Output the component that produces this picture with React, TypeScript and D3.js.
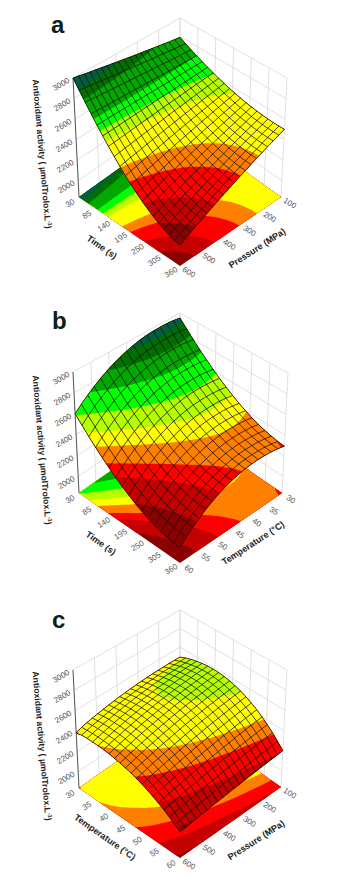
import React from "react";
import * as d3 from "d3";

// colour bands of the response surface, lowest first. Each panel has its own levels
const bandColors = ["#8b0000", "#c40000", "#ff0000", "#ff8000", "#ffff00", "#b6ff00", "#00ff00", "#00a800", "#006e00", "#005e40"];
const levelsA = [1800, 2090, 2185, 2300, 2385, 2550, 2620, 2700, 2840, 2910];
const levelsB = [1800, 2100, 2225, 2300, 2395, 2480, 2590, 2720, 2830, 2920];
const levelsC = [1800, 2085, 2195, 2300, 2385, 2520, 2620, 2720, 2830, 2920];

const activityTicks = [2000, 2200, 2400, 2600, 2800, 3000];
const timeTicks = [30, 85, 140, 195, 250, 305, 360];
const pressureTicks = [100, 200, 300, 400, 500, 600];
const temperatureTicks = [30, 35, 40, 45, 50, 55, 60];

// rows: time 30 -> 360, columns: pressure 100 -> 600
const surfaceA = [
  [2790,2801,2811,2822,2832,2843,2853,2864,2874,2885,2895,2906,2916,2927,2937,2948,2958,2969,2979,2990,3000],
  [2759,2767,2774,2782,2790,2798,2805,2813,2821,2828,2836,2844,2851,2859,2867,2875,2882,2890,2898,2905,2913],
  [2730,2735,2740,2745,2750,2755,2760,2765,2770,2775,2780,2785,2790,2795,2800,2805,2810,2815,2820,2825,2830],
  [2703,2705,2708,2710,2712,2715,2717,2719,2722,2724,2727,2729,2731,2734,2736,2738,2741,2743,2745,2748,2750],
  [2677,2677,2677,2677,2677,2677,2676,2676,2676,2676,2676,2676,2676,2676,2676,2676,2675,2675,2675,2675,2675],
  [2653,2651,2648,2646,2643,2641,2638,2636,2633,2631,2629,2626,2624,2621,2619,2616,2614,2611,2609,2606,2604],
  [2631,2626,2622,2617,2612,2608,2603,2598,2593,2589,2584,2579,2575,2570,2565,2561,2556,2551,2546,2542,2537],
  [2610,2603,2596,2590,2583,2576,2569,2562,2556,2549,2542,2535,2528,2522,2515,2508,2501,2494,2488,2481,2474],
  [2591,2582,2573,2565,2556,2547,2538,2529,2521,2512,2503,2494,2485,2477,2468,2459,2450,2441,2433,2424,2415],
  [2574,2563,2553,2542,2531,2520,2510,2499,2488,2477,2467,2456,2445,2434,2424,2413,2402,2391,2381,2370,2359],
  [2559,2546,2534,2521,2509,2496,2484,2471,2459,2446,2434,2421,2408,2396,2383,2371,2358,2346,2333,2321,2308],
  [2545,2531,2517,2502,2488,2474,2460,2446,2431,2417,2403,2389,2375,2360,2346,2332,2318,2304,2289,2275,2261],
  [2533,2517,2502,2486,2470,2454,2439,2423,2407,2391,2376,2360,2344,2328,2313,2297,2281,2265,2250,2234,2218],
  [2523,2506,2489,2471,2454,2437,2420,2403,2385,2368,2351,2334,2317,2299,2282,2265,2248,2231,2213,2196,2179],
  [2515,2496,2478,2459,2441,2422,2404,2385,2367,2348,2330,2311,2292,2274,2255,2237,2218,2200,2181,2163,2144],
  [2508,2488,2469,2449,2429,2409,2390,2370,2350,2330,2311,2291,2271,2251,2232,2212,2192,2172,2153,2133,2113],
  [2503,2482,2461,2440,2420,2399,2378,2357,2336,2315,2295,2274,2253,2232,2211,2190,2169,2149,2128,2107,2086],
  [2500,2478,2456,2434,2413,2391,2369,2347,2325,2303,2282,2260,2238,2216,2194,2172,2150,2129,2107,2085,2063],
  [2498,2475,2453,2430,2407,2385,2362,2339,2316,2294,2271,2248,2226,2203,2180,2158,2135,2112,2089,2067,2044],
  [2498,2475,2451,2428,2404,2381,2357,2334,2310,2287,2264,2240,2217,2193,2170,2146,2123,2099,2076,2052,2029],
  [2500,2476,2452,2428,2404,2380,2355,2331,2307,2283,2259,2235,2211,2187,2163,2139,2114,2090,2066,2042,2018],
];

// rows: time 30 -> 360, columns: temperature 30 -> 60
const surfaceB = [
  [2948,2958,2964,2968,2968,2967,2963,2955,2945,2931,2915,2897,2875,2851,2823,2793,2760,2724,2686,2644,2600],
  [2887,2897,2903,2907,2908,2906,2902,2895,2884,2871,2855,2836,2815,2790,2763,2733,2699,2664,2626,2584,2540],
  [2829,2839,2845,2849,2850,2849,2844,2837,2827,2813,2797,2779,2757,2733,2706,2676,2642,2607,2569,2527,2483],
  [2773,2783,2790,2793,2794,2793,2789,2782,2771,2758,2742,2724,2703,2678,2651,2621,2588,2553,2514,2473,2429],
  [2721,2731,2738,2742,2743,2742,2737,2730,2720,2707,2691,2673,2652,2628,2601,2571,2537,2502,2464,2423,2379],
  [2672,2682,2689,2693,2694,2693,2689,2682,2672,2659,2643,2624,2603,2579,2552,2522,2489,2454,2416,2375,2331],
  [2626,2636,2643,2647,2648,2647,2643,2636,2626,2613,2597,2579,2558,2534,2507,2477,2444,2409,2371,2330,2286],
  [2582,2592,2599,2603,2604,2604,2600,2593,2583,2570,2554,2536,2515,2491,2464,2435,2402,2367,2329,2288,2244],
  [2542,2552,2559,2563,2565,2564,2560,2553,2543,2530,2515,2497,2476,2452,2425,2395,2362,2328,2290,2249,2205],
  [2505,2515,2522,2527,2528,2527,2523,2516,2507,2494,2478,2460,2439,2416,2389,2359,2326,2291,2254,2213,2169],
  [2471,2481,2489,2493,2494,2494,2490,2483,2473,2461,2445,2427,2407,2383,2356,2327,2294,2259,2221,2181,2137],
  [2439,2449,2457,2461,2463,2462,2458,2452,2442,2430,2414,2396,2376,2352,2326,2296,2263,2229,2191,2151,2107],
  [2411,2421,2429,2433,2435,2434,2431,2424,2415,2402,2387,2369,2348,2325,2298,2269,2236,2202,2164,2124,2080],
  [2386,2397,2404,2409,2410,2410,2406,2400,2390,2378,2362,2345,2324,2301,2274,2245,2212,2178,2140,2100,2056],
  [2364,2375,2382,2387,2388,2388,2384,2378,2368,2356,2341,2323,2303,2279,2253,2223,2191,2156,2119,2078,2035],
  [2344,2355,2362,2367,2369,2368,2365,2359,2349,2337,2322,2304,2284,2260,2234,2205,2172,2138,2101,2060,2017],
  [2328,2339,2346,2351,2353,2353,2349,2343,2334,2321,2306,2289,2268,2245,2219,2190,2157,2123,2086,2045,2002],
  [2315,2326,2334,2338,2340,2340,2337,2331,2321,2309,2294,2277,2257,2233,2207,2178,2146,2112,2074,2034,1991],
  [2305,2316,2324,2329,2330,2330,2327,2321,2312,2300,2284,2267,2247,2224,2198,2169,2137,2102,2065,2025,1982],
  [2297,2308,2316,2321,2323,2323,2320,2314,2305,2293,2277,2260,2240,2217,2191,2162,2130,2096,2059,2019,1976],
  [2293,2304,2312,2317,2319,2319,2316,2310,2301,2289,2274,2257,2237,2214,2188,2159,2127,2093,2056,2016,1973],
];

// rows: temperature 30 -> 60, columns: pressure 100 -> 600
const surfaceC = [
  [2490,2492,2494,2494,2494,2493,2492,2489,2486,2482,2478,2472,2466,2459,2452,2443,2434,2424,2414,2402,2378],
  [2515,2516,2516,2515,2513,2511,2508,2504,2500,2495,2490,2482,2475,2467,2459,2450,2440,2428,2417,2405,2392],
  [2536,2535,2535,2531,2529,2525,2522,2517,2510,2504,2498,2490,2482,2473,2464,2453,2443,2431,2419,2405,2392],
  [2552,2550,2548,2544,2539,2535,2530,2524,2518,2510,2503,2493,2485,2475,2465,2454,2442,2429,2417,2403,2389],
  [2565,2562,2558,2553,2548,2542,2537,2529,2522,2514,2505,2496,2486,2475,2465,2452,2440,2427,2414,2400,2385],
  [2573,2568,2565,2558,2552,2546,2539,2531,2523,2514,2505,2495,2484,2474,2462,2449,2437,2423,2410,2395,2380],
  [2577,2572,2567,2559,2553,2546,2538,2529,2520,2511,2502,2490,2479,2468,2456,2443,2430,2416,2403,2387,2372],
  [2577,2571,2565,2557,2550,2541,2534,2524,2514,2504,2495,2483,2471,2459,2448,2434,2421,2406,2393,2378,2362],
  [2573,2566,2559,2551,2542,2534,2525,2515,2506,2495,2485,2472,2461,2448,2436,2423,2409,2394,2380,2365,2350],
  [2565,2558,2550,2541,2532,2523,2515,2504,2494,2482,2472,2460,2448,2436,2423,2409,2396,2381,2368,2352,2337],
  [2553,2545,2537,2528,2519,2509,2500,2489,2479,2468,2457,2445,2432,2420,2407,2394,2380,2367,2352,2338,2322],
  [2536,2527,2519,2510,2501,2491,2480,2470,2459,2449,2437,2425,2413,2400,2388,2375,2361,2348,2333,2319,2304],
  [2515,2507,2498,2489,2479,2469,2459,2449,2437,2427,2415,2404,2391,2380,2367,2354,2341,2328,2314,2300,2285],
  [2490,2481,2472,2463,2453,2444,2433,2423,2413,2401,2390,2379,2367,2355,2343,2331,2317,2305,2292,2277,2264],
  [2461,2452,2443,2434,2424,2414,2405,2394,2384,2373,2362,2351,2340,2328,2317,2304,2292,2280,2267,2254,2241],
  [2428,2419,2411,2401,2392,2382,2372,2363,2352,2342,2332,2320,2310,2299,2288,2276,2264,2253,2241,2229,2216],
  [2391,2382,2374,2365,2356,2347,2336,2327,2317,2307,2298,2287,2277,2267,2256,2246,2234,2223,2212,2200,2189],
  [2349,2341,2332,2324,2315,2306,2298,2288,2279,2270,2261,2252,2241,2232,2222,2212,2203,2192,2182,2171,2161],
  [2304,2296,2288,2280,2271,2264,2255,2246,2238,2230,2221,2212,2204,2194,2185,2177,2167,2158,2148,2140,2130],
  [2254,2246,2239,2231,2224,2216,2209,2201,2193,2185,2178,2170,2162,2154,2146,2137,2129,2122,2114,2105,2097],
  [2200,2193,2186,2179,2173,2166,2159,2152,2145,2138,2132,2125,2118,2111,2104,2097,2090,2084,2077,2070,2063],
];

type Pt = [number, number];
type Box = { left: Pt; back: Pt; right: Pt; front: Pt };

const zUnit = d3.scaleLinear().domain([1840, 3000]).range([0, 1]);
const FONT = "'Liberation Sans', Arial, sans-serif";

function Panel({ letter, letterPos, floor, top, surface, levels, meshCells, leftTicks, rightTicks, leftTitle, rightTitle, leftTitlePos, rightTitlePos, zTitlePos }: any) {
  const n = surface[0].length;
  const last = n - 1;
  const leftUnit = d3.scaleLinear().domain(d3.extent(leftTicks) as any).range([0, 1]);
  const rightUnit = d3.scaleLinear().domain(d3.extent(rightTicks) as any).range([0, 1]);

  // f runs along the left-front axis, g along the right-front axis
  const bilinear = (b: Box, f: number, g: number): Pt => {
    const w = (a: number, c: number, d: number, e: number) =>
      a * (1 - f) * (1 - g) + c * f * (1 - g) + d * (1 - f) * g + e * f * g;
    return [w(b.back[0], b.right[0], b.left[0], b.front[0]), w(b.back[1], b.right[1], b.left[1], b.front[1])];
  };
  const project = (f: number, g: number, z: number): Pt => {
    const a = bilinear(floor, f, g);
    const b = bilinear(top, f, g);
    const t = zUnit(z);
    return [a[0] + (b[0] - a[0]) * t, a[1] + (b[1] - a[1]) * t];
  };
  const valueAt = (row: number, col: number) => {
    const r0 = Math.min(Math.floor(row), n - 2), c0 = Math.min(Math.floor(col), n - 2);
    const dr = row - r0, dc = col - c0;
    return surface[r0][c0] * (1 - dr) * (1 - dc) + surface[r0][c0 + 1] * (1 - dr) * dc
      + surface[r0 + 1][c0] * dr * (1 - dc) + surface[r0 + 1][c0 + 1] * dr * dc;
  };

  const contours = d3.contours().size([n, n]).thresholds(levels)(surface.flat());
  const pathWith = (lift: boolean) => d3.geoPath(d3.geoTransform({
    point(x: number, y: number) {
      const col = Math.max(0, Math.min(last, x - 0.5));
      const row = Math.max(0, Math.min(last, y - 0.5));
      const p = project(row / last, col / last, lift ? valueAt(row, col) : 1840);
      (this as any).stream.point(p[0], p[1]);
    },
  }));
  const floorPath = pathWith(false);
  const surfacePath = pathWith(true);

  const line = d3.line<Pt>();
  const idx = d3.range(n);
  const meshAt = d3.range(meshCells + 1).map((k: number) => (k * last) / meshCells);
  const rows = meshAt.map((r: number) => line(idx.map((c) => project(r / last, c / last, valueAt(r, c)))));
  const cols = meshAt.map((c: number) => line(idx.map((r) => project(r / last, c / last, valueAt(r, c)))));

  const gridColor = "#dcdcdc";
  const seg = (a: Pt, b: Pt) => line([a, b]) as string;

  return (
    <g fontFamily={FONT}>
      {/* walls */}
      <g stroke={gridColor} strokeWidth={0.9} fill="none">
        {activityTicks.map((z) => (
          <path key={z} d={line([project(0, 1, z), project(0, 0, z), project(1, 0, z)]) as string} />
        ))}
        {rightTicks.map((t: number) => (
          <path key={t} d={seg(project(0, rightUnit(t), 1840), project(0, rightUnit(t), 3000))} />
        ))}
        {leftTicks.map((t: number) => (
          <path key={t} d={seg(project(leftUnit(t), 0, 1840), project(leftUnit(t), 0, 3000))} />
        ))}
      </g>
      <path d={seg(project(0, 1, 1840), project(0, 1, 3000))} stroke="#333" strokeWidth={0.8} />

      {/* contours on the floor */}
      {contours.map((c: any, i: number) => (
        <path key={i} d={floorPath(c) as string} fill={bandColors[i]} fillRule="evenodd" />
      ))}

      {/* surface */}
      {contours.map((c: any, i: number) => (
        <path key={i} d={surfacePath(c) as string} fill={bandColors[i]} fillRule="evenodd" />
      ))}
      <g fill="none" stroke="#140e00" strokeWidth={0.9} strokeOpacity={0.85}>
        {rows.map((d: any, i: number) => <path key={i} d={d as string} />)}
        {cols.map((d: any, i: number) => <path key={i} d={d as string} />)}
      </g>

      {/* tick labels */}
      <g fontSize={8} fill="#555" textAnchor="middle">
        {activityTicks.map((z) => {
          const p = project(0, 1, z);
          return <text key={z} dy="0.35em" transform={`translate(${p[0] - 12},${p[1] + 6}) rotate(-30)`}>{z}</text>;
        })}
        {leftTicks.map((t: number) => {
          const p = project(leftUnit(t), 1, 1840);
          return <text key={t} dy="0.35em" transform={`translate(${p[0] - 9},${p[1] + 6}) rotate(-32)`}>{t}</text>;
        })}
        {rightTicks.map((t: number) => {
          const p = project(1, rightUnit(t), 1840);
          return <text key={t} dy="0.35em" transform={`translate(${p[0] + 9},${p[1] + 6}) rotate(32)`}>{t}</text>;
        })}
      </g>

      {/* axis titles */}
      <g fontSize={9} fontWeight="bold" fill="#222" textAnchor="middle">
        <text dy="0.35em" transform={`translate(${leftTitlePos[0]},${leftTitlePos[1]}) rotate(35)`}>{leftTitle}</text>
        <text dy="0.35em" transform={`translate(${rightTitlePos[0]},${rightTitlePos[1]}) rotate(-33)`}>{rightTitle}</text>
        <text fontSize={8.7} dy="0.35em" transform={`translate(${zTitlePos[0]},${zTitlePos[1]}) rotate(85)`}>
          Antioxidant activity ( µmolTrolox.L<tspan dy="-3" fontSize={5.5}>-1</tspan><tspan dy="3">)</tspan>
        </text>
      </g>

      <text x={letterPos[0]} y={letterPos[1]} fontSize={24} fontWeight="bold" fill="#0d1f1a">{letter}</text>
    </g>
  );
}

export default function App() {
  return (
    <svg width={350} height={896} style={{ position: "absolute", left: 0, top: 0, background: "#fff" }}>
      <Panel
        letter="a" letterPos={[51, 33]} meshCells={19}
        floor={{ left: [79, 197], back: [180, 125], right: [281, 197], front: [180, 266] }}
        top={{ left: [73, 78], back: [180, 18], right: [287, 78], front: [180, 131] }}
        surface={surfaceA} levels={levelsA} leftTicks={timeTicks} rightTicks={pressureTicks}
        leftTitle="Time (s)" rightTitle="Pressure (MPa)"
        leftTitlePos={[102, 247]} rightTitlePos={[257, 248]} zTitlePos={[42, 154]}
      />
      <Panel
        letter="b" letterPos={[52, 329]} meshCells={16}
        floor={{ left: [79, 493], back: [180, 423], right: [282, 493], front: [180, 563] }}
        top={{ left: [73, 372], back: [180, 313], right: [288, 373], front: [180, 428] }}
        surface={surfaceB} levels={levelsB} leftTicks={timeTicks} rightTicks={temperatureTicks}
        leftTitle="Time (s)" rightTitle="Temperature (°C)"
        leftTitlePos={[101, 543]} rightTitlePos={[253, 543]} zTitlePos={[42, 450]}
      />
      <Panel
        letter="c" letterPos={[52, 628]} meshCells={19}
        floor={{ left: [79, 788], back: [180, 717], right: [281, 787], front: [180, 858] }}
        top={{ left: [73, 670], back: [180, 610], right: [287, 670], front: [180, 723] }}
        surface={surfaceC} levels={levelsC} leftTicks={temperatureTicks} rightTicks={pressureTicks}
        leftTitle="Temperature (°C)" rightTitle="Pressure (MPa)"
        leftTitlePos={[105, 837]} rightTitlePos={[256, 840]} zTitlePos={[42, 746]}
      />
    </svg>
  );
}
